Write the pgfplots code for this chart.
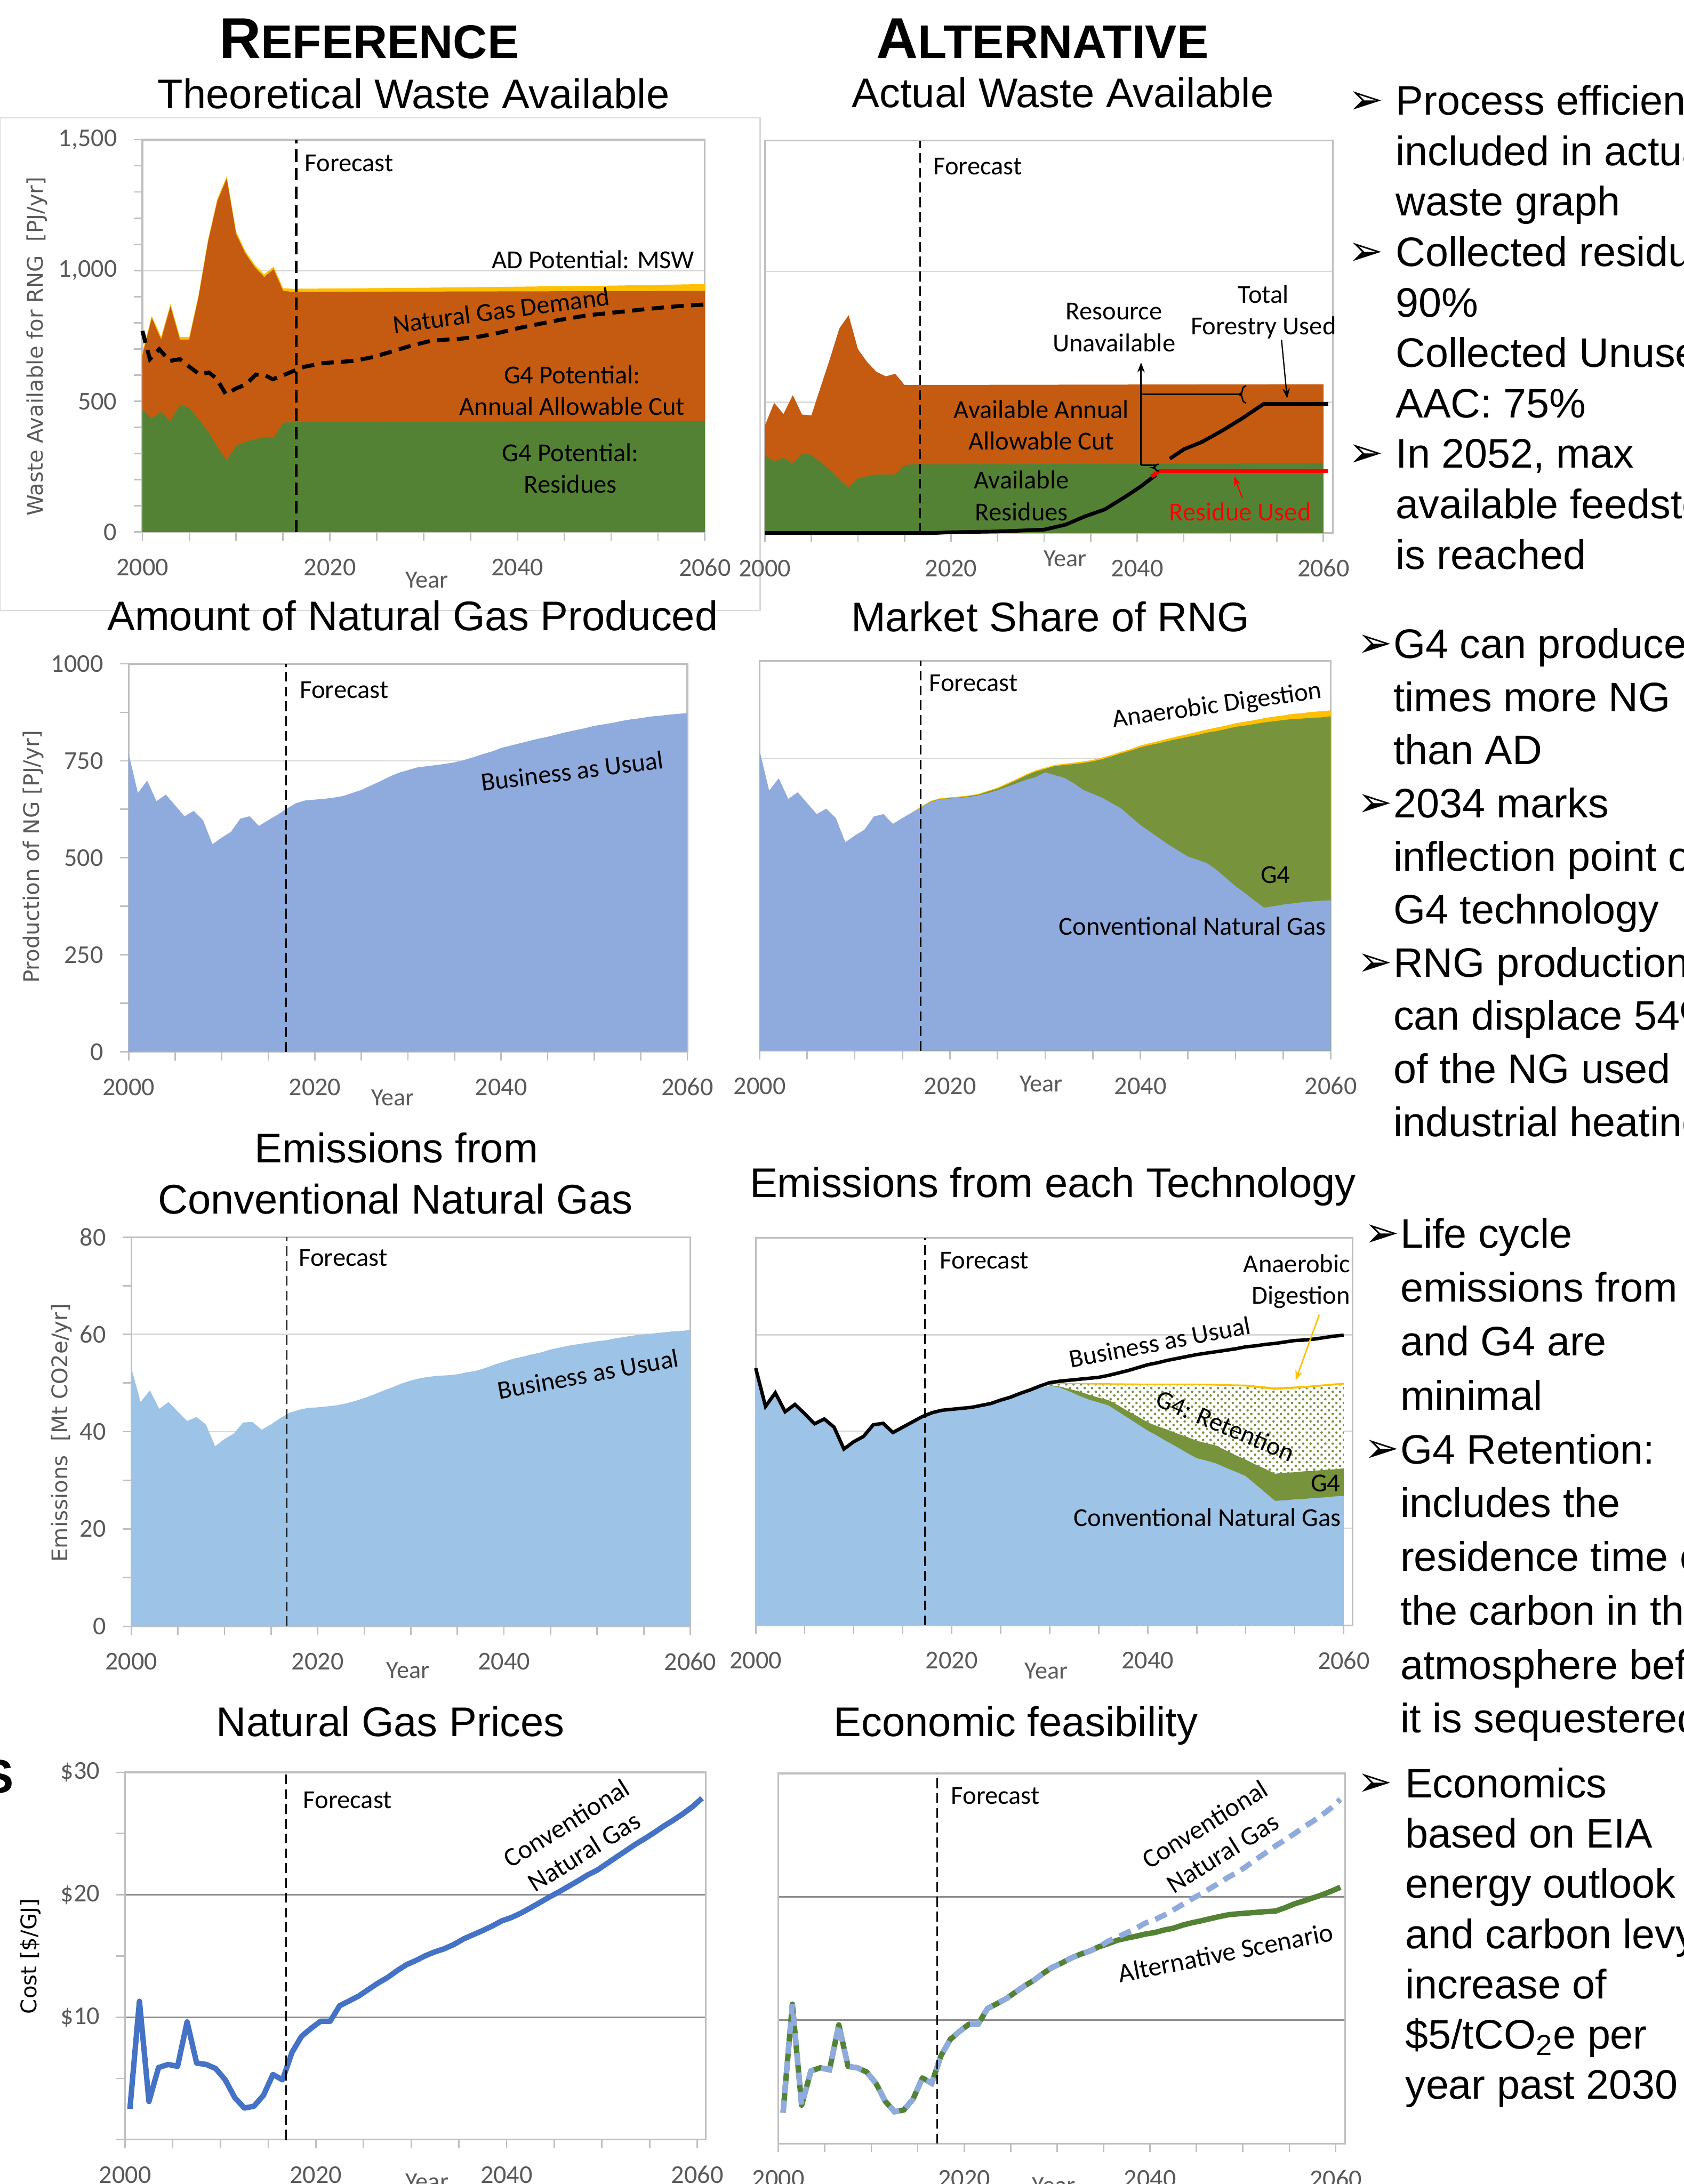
\documentclass[border=0pt]{standalone}
\usepackage{fontspec}
\setmainfont{Liberation Sans}
\newfontfamily\calibri{Carlito}
\newfontfamily\dejavu{DejaVu Sans}
\usepackage{pgfplots}
\pgfplotsset{compat=1.18}
\usetikzlibrary{patterns,decorations.pathreplacing,arrows.meta}

\definecolor{aacorange}{HTML}{C55A11}
\definecolor{resgreen}{HTML}{548235}
\definecolor{adyellow}{HTML}{FFC000}
\definecolor{ngblue}{HTML}{8FAADC}
\definecolor{g4green}{HTML}{77933C}
\definecolor{emblue}{HTML}{9DC3E6}
\definecolor{lineblue}{HTML}{4472C4}
\definecolor{tickgray}{HTML}{595959}
\definecolor{axgray}{HTML}{BFBFBF}
\definecolor{gridgray}{HTML}{D9D9D9}

\newcommand\annot{\calibri\fontsize{10.5}{12.8}\selectfont}
\newcommand\annotb{\calibri\fontsize{10.8}{13.6}\selectfont}
\newcommand\ticklbl{\calibri\fontsize{10.4}{12}\selectfont}
\newcommand\yearlbl{\calibri\fontsize{10}{12}\selectfont}
\newcommand\ylbl{\dejavu\fontsize{8.7}{10}\selectfont}
\newcommand\ttl{\fontsize{16.8}{20}\selectfont}
\newcommand\bultext{\fontsize{16.7}{20}\selectfont}
\newcommand\bul{\raisebox{0.5pt}{\dejavu\fontsize{17}{17}\selectfont ➢}}

\tikzset{fc/.style={line width=0.6pt, dash pattern=on 4pt off 2pt}}
\pgfplotsset{
  xl/.style={
    scale only axis, clip=false, anchor=north west,
    axis line style={draw=axgray, line width=0.7pt},
    tick style={draw=axgray, line width=0.6pt},
    tick align=outside, tick pos=left,
    major tick length=3.5pt, minor tick length=3.5pt,
    xmin=2000, xmax=2060, ymin=0,
    xtick={2000,2020,2040,2060},
    minor xtick={2005,2010,2015,2025,2030,2035,2045,2050,2055},
    tick label style={font=\ticklbl, text=tickgray},
    /pgf/number format/assume math mode=true,
    /pgf/number format/1000 sep={},
    ymajorgrids, grid style={draw=gridgray, line width=0.6pt},
    xticklabel style={anchor=center, yshift=-10.8pt},
    yticklabel style={anchor=east, inner sep=0pt, xshift=-6.6pt},
    xlabel style={font=\yearlbl, text=tickgray, anchor=center},
    ylabel style={font=\ylbl, text=tickgray, anchor=center},
  },
}

\begin{document}
\begin{tikzpicture}[bt/.style={anchor=base west, inner sep=0pt, font=\bultext}]

% chart-area frame of the first panel
\draw[gridgray, line width=0.5pt] (0pt,-47.8pt) rectangle (308pt,-247.4pt);

% headings and titles
\node[anchor=base, inner sep=0] at (149.6pt,-23.6pt) {\bfseries\fontsize{23.4}{24}\selectfont R\fontsize{19.2}{20}\selectfont EFERENCE};
\node[anchor=base, inner sep=0] at (422.4pt,-23.6pt) {\bfseries\fontsize{23.4}{24}\selectfont A\fontsize{19.2}{20}\selectfont LTERNATIVE};
\node[anchor=base, inner sep=0, font=\ttl] at (167.6pt,-44pt) {Theoretical Waste Available};
\node[anchor=base, inner sep=0, font=\ttl] at (430.6pt,-43.6pt) {Actual Waste Available};
\node[anchor=base, inner sep=0, font=\ttl] at (167.2pt,-255.4pt) {Amount of Natural Gas Produced};
\node[anchor=base, inner sep=0, font=\ttl] at (425.6pt,-256pt) {Market Share of RNG};
\node[anchor=base, inner sep=0, font=\ttl] at (160.6pt,-471.2pt) {Emissions from};
\node[anchor=base, inner sep=0, font=\ttl] at (160.2pt,-491.8pt) {Conventional Natural Gas};
\node[anchor=base, inner sep=0, font=\ttl] at (426.6pt,-485.2pt) {Emissions from each Technology};
\node[anchor=base, inner sep=0, font=\ttl] at (158.2pt,-703.6pt) {Natural Gas Prices};
\node[anchor=base, inner sep=0, font=\ttl] at (411.6pt,-703.6pt) {Economic feasibility};
\node[anchor=base east, inner sep=0] at (5.8pt,-726.4pt) {\bfseries\fontsize{23.4}{24}\selectfont E\fontsize{19.2}{20}\selectfont CONOMICS};

% ---------------- Panel 1: Theoretical waste ----------------
\begin{axis}[xl, at={(57.7pt,-56.6pt)}, width=227.9pt, height=159pt,
  ymax=1500, ytick={0,500,1000,1500}, minor ytick={100,200,...,1400},
  yticklabel style={/pgf/number format/1000 sep={,}},
  xlabel={Year}, xlabel style={at={(axis description cs:0.506,0)}, yshift=-19.4pt},
  ylabel={Waste Available for RNG\ \ [PJ/yr]}, ylabel style={at={(axis description cs:-0.187,0.473)}}]
\addplot[fill=adyellow, draw=none] coordinates {(2000,686) (2001,826) (2002,746) (2003,872) (2004,746) (2005,746) (2006,908) (2007,1117) (2008,1274) (2009,1360) (2010,1148) (2011,1073) (2012,1021) (2013,985) (2014,1015) (2015,932) (2016,930) (2020,931) (2030,934) (2040,938) (2050,942) (2060,948)} \closedcycle;
\addplot[fill=aacorange, draw=none] coordinates {(2000,676) (2001,818) (2002,736) (2003,863) (2004,736) (2005,736) (2006,900) (2007,1109) (2008,1266) (2009,1351) (2010,1139) (2011,1064) (2012,1012) (2013,975) (2014,1005) (2015,922) (2016,918) (2060,922)} \closedcycle;
\addplot[fill=resgreen, draw=none] coordinates {(2000,467) (2001,434) (2002,460) (2003,425) (2004,487) (2005,475) (2006,430) (2007,385) (2008,325) (2009,273) (2010,330) (2011,345) (2012,354) (2013,363) (2014,360) (2015,418) (2016,420) (2060,425)} \closedcycle;
\addplot[black, line width=1.6pt, dash pattern=on 5pt off 3pt] coordinates {(2000,769) (2000.8,661) (2001.8,699) (2002.9,654) (2004,661) (2005,632) (2006.1,603) (2007.1,610) (2007.9,587) (2008.9,527) (2010,549) (2011,564) (2012.1,602) (2013.1,599) (2013.9,584) (2015.2,602) (2016.2,617) (2017.3,632) (2019.3,646) (2022.5,654) (2024.6,669) (2026.7,691) (2028.8,714) (2030.9,732) (2034,739) (2036.1,748) (2038.2,763) (2040.3,781) (2042.4,796) (2044.5,811) (2047.6,829) (2050.8,841) (2053.9,853) (2057,863) (2060,870)};
\draw[line width=1.1pt, dash pattern=on 5pt off 2.5pt] (axis cs:2016.4,0) -- (axis cs:2016.4,1500);
\node[anchor=west, inner sep=0, font=\annot] at (rel axis cs:0.288,0.94) {Forecast};
\node[anchor=east, inner sep=0, font=\annot] at (rel axis cs:0.982,0.694) {AD Potential: MSW};
\node[rotate=7.5, font=\annot] at (rel axis cs:0.638,0.565) {Natural Gas Demand};
\node[align=center, font=\annot] at (rel axis cs:0.764,0.361) {G4 Potential:\\Annual Allowable Cut};
\node[align=center, font=\annot] at (rel axis cs:0.761,0.162) {G4 Potential:\\Residues};
\end{axis}

% ---------------- Panel 2: Actual waste ----------------
\begin{axis}[xl, at={(309.9pt,-57pt)}, width=230.1pt, height=159pt,
  xmax=2061, ymax=1500, ytick={500,1000}, yticklabels={}, ytick style={draw=none},
  xlabel={Year}, xlabel style={at={(axis description cs:0.529,0)}, yshift=-10.4pt}]
\addplot[fill=aacorange, draw=none] coordinates {(2000,410) (2001,498) (2002,455) (2003,527) (2004,453) (2005,450) (2006,559) (2007,667) (2008,782) (2009,833) (2010,703) (2011,653) (2012,616) (2013,599) (2014,609) (2015,566) (2016,566) (2060,569)} \closedcycle;
\addplot[fill=resgreen, draw=none] coordinates {(2000,296) (2001,274) (2002,287) (2003,266) (2004,303) (2005,299) (2006,270) (2007,241) (2008,205) (2009,173) (2010,208) (2011,217) (2012,224) (2013,224) (2014,224) (2015,260) (2016,263) (2060,266)} \closedcycle;
\addplot[black, line width=1.5pt] coordinates {(2000,0) (2018,0) (2020,3) (2025,6) (2030,13) (2032.3,32) (2034.4,64) (2036.5,90) (2038.6,136) (2040.3,176) (2042,222)};
\addplot[black, line width=1.5pt] coordinates {(2043.5,284) (2045,320) (2047,349) (2049.2,393) (2051.3,439) (2053.6,494) (2060.5,494)};
\addplot[red, line width=1.5pt] coordinates {(2041.5,216) (2042.4,237) (2060.5,237)};
\draw[fc] (axis cs:2016.7,0) -- (axis cs:2016.7,1500);
\draw[line width=0.6pt] (axis cs:2040.41,260) -- (axis cs:2041.97,260);
\draw[line width=0.6pt, -{Stealth[length=4pt,width=3pt]}] (axis cs:2040.41,260) -- (axis cs:2040.41,652);
\draw[line width=0.6pt] (axis cs:2040.41,530) -- (axis cs:2051.3,530);
\draw[line width=0.6pt, decorate, decoration={brace, amplitude=3pt}] (axis cs:2051.7,497) -- (axis cs:2051.7,563);
\draw[line width=0.6pt, decorate, decoration={brace, amplitude=2.5pt}] (axis cs:2042.3,237) -- (axis cs:2042.3,263);
\draw[line width=0.5pt, -{Stealth[length=4pt,width=3pt]}] (axis cs:2055.5,739) -- (axis cs:2056.1,515);
\draw[red, line width=0.5pt, -{Stealth[length=4pt,width=3pt]}] (axis cs:2051.3,133) -- (axis cs:2050.4,217);
\node[anchor=west, inner sep=0, font=\annot] at (rel axis cs:0.296,0.935) {Forecast};
\node[align=center, font=\annot] at (rel axis cs:0.615,0.524) {Resource\\Unavailable};
\node[align=center, font=\annot] at (rel axis cs:0.878,0.563) {Total\\Forestry Used};
\node[align=center, font=\annot] at (rel axis cs:0.487,0.275) {Available Annual\\Allowable Cut};
\node[align=center, font=\annot] at (rel axis cs:0.452,0.095) {Available\\Residues};
\node[font=\annot, text=red] at (rel axis cs:0.837,0.054) {Residue Used};
\end{axis}

% ---------------- Panel 3: NG produced ----------------
\begin{axis}[xl, at={(52.1pt,-269pt)}, width=226.4pt, height=157.2pt,
  ymax=1000, ytick={0,250,500,750,1000}, minor ytick={125,375,625,875},
  xlabel={Year}, xlabel style={at={(axis description cs:0.473,0)}, yshift=-18.6pt},
  ylabel={Production of NG [PJ/yr]}, ylabel style={at={(axis description cs:-0.171,0.503)}}]
\addplot[fill=ngblue, draw=none] coordinates {(2000,769) (2001,667) (2002,699) (2003,646) (2004,663) (2005,635) (2006,607) (2007,621) (2008,597) (2009,535) (2010,552) (2011,567) (2012,601) (2013,607) (2014,582) (2015,597) (2016,611) (2017,627) (2018,641) (2019,648) (2020,650) (2021,652) (2022,655) (2023,659) (2024,667) (2025,675) (2026,686) (2027,697) (2028,709) (2029,719) (2030,726) (2031,733) (2032,736) (2033,739) (2034,742) (2035,746) (2036,752) (2037,759) (2038,767) (2039,774) (2040,783) (2041,789) (2042,795) (2043,801) (2044,807) (2045,812) (2046,818) (2047,824) (2048,829) (2049,834) (2050,840) (2051,844) (2052,848) (2053,853) (2054,857) (2055,860) (2056,864) (2057,866) (2058,869) (2059,871) (2060,873)} \closedcycle;
\draw[fc] (axis cs:2016.9,0) -- (axis cs:2016.9,1000);
\node[anchor=west, inner sep=0, font=\annot] at (rel axis cs:0.306,0.933) {Forecast};
\node[rotate=7.2, font=\annot] at (rel axis cs:0.794,0.724) {Business as Usual};
\end{axis}

% ---------------- Panel 4: Market share ----------------
\begin{axis}[xl, at={(307.8pt,-267.8pt)}, width=231.4pt, height=158pt,
  ymax=1000, ytick={250,500,750}, yticklabels={}, ytick style={draw=none},
  xlabel={Year}, xlabel style={at={(axis description cs:0.493,0)}, yshift=-13.4pt}]
\addplot[fill=adyellow, draw=none] coordinates {(2016,611) (2017,627) (2018,641) (2019,648) (2020,650) (2021,652) (2022,655) (2023,659) (2024,667) (2025,675) (2026,686) (2027,697) (2028,709) (2029,719) (2030,726) (2031,733) (2032,736) (2033,739) (2034,742) (2035,746) (2036,752) (2037,759) (2038,767) (2039,774) (2040,783) (2041,789) (2042,795) (2043,801) (2044,807) (2045,812) (2046,818) (2047,824) (2048,829) (2049,834) (2050,840) (2051,844) (2052,848) (2053,853) (2054,857) (2055,860) (2056,864) (2057,866) (2058,869) (2059,871) (2060,873)} \closedcycle;
\addplot[fill=g4green, draw=none] coordinates {(2017,625) (2018,639) (2019,646) (2020,648) (2021,650) (2022,653) (2023,657) (2024,665) (2025,672) (2026,683) (2027,694) (2028,706) (2029,716) (2030,723) (2031,730) (2032,733) (2033,735) (2034,738) (2035,742) (2036,748) (2037,755) (2038,763) (2039,770) (2040,778) (2041,784) (2042,789) (2043,795) (2044,800) (2045,805) (2046,810) (2047,816) (2048,820) (2049,825) (2050,831) (2051,834) (2052,838) (2053,842) (2054,845) (2055,848) (2056,851) (2057,852) (2058,854) (2059,855) (2060,858)} \closedcycle;
\addplot[fill=ngblue, draw=none] coordinates {(2000,769) (2001,667) (2002,699) (2003,646) (2004,663) (2005,635) (2006,607) (2007,621) (2008,597) (2009,535) (2010,552) (2011,567) (2012,601) (2013,607) (2014,582) (2015,597) (2016,611) (2017,625) (2018,638) (2019,645) (2020,647) (2021,649) (2022,651) (2023,655) (2024,661) (2025,668) (2026,677) (2027,686) (2028,695) (2029,702) (2030,714) (2031,707) (2032,700) (2033,686) (2034,669) (2035,659) (2036,649) (2037,635) (2038,621) (2039,600) (2040,579) (2041,562) (2042,545) (2043,528) (2044,513) (2045,498) (2046,490) (2047,481) (2048,464) (2049,443) (2050,422) (2051,404) (2052,385) (2053,367) (2054,371) (2055,375) (2056,378) (2057,381) (2058,383) (2059,385) (2060,386)} \closedcycle;
\draw[fc] (axis cs:2016.9,0) -- (axis cs:2016.9,1000);
\node[anchor=west, inner sep=0, font=\annot] at (rel axis cs:0.296,0.943) {Forecast};
\node[rotate=8, font=\annot] at (rel axis cs:0.801,0.884) {Anaerobic Digestion};
\node[font=\annot] at (rel axis cs:0.903,0.451) {G4};
\node[font=\annot] at (rel axis cs:0.758,0.32) {Conventional Natural Gas};
\end{axis}

% ---------------- Panel 5: Emissions conventional ----------------
\begin{axis}[xl, at={(53.2pt,-501.3pt)}, width=226.5pt, height=157.7pt,
  ymax=80, ytick={0,20,40,60,80}, minor ytick={10,30,50,70},
  xlabel={Year}, xlabel style={at={(axis description cs:0.495,0)}, yshift=-18pt},
  ylabel={Emissions\ \ [Mt CO2e/yr]}, ylabel style={at={(axis description cs:-0.125,0.497)}}]
\addplot[fill=emblue, draw=none] coordinates {(2000,53.1) (2001,46.1) (2002,48.5) (2003,44.7) (2004,46.1) (2005,44.1) (2006,42.2) (2007,43.0) (2008,41.5) (2009,37.0) (2010,38.5) (2011,39.6) (2012,41.9) (2013,42.0) (2014,40.4) (2015,41.5) (2016,42.8) (2017,43.9) (2018,44.5) (2019,44.9) (2020,45.0) (2021,45.2) (2022,45.4) (2023,45.8) (2024,46.3) (2025,46.9) (2026,47.6) (2027,48.4) (2028,49.1) (2029,49.9) (2030,50.5) (2031,51.0) (2032,51.3) (2033,51.5) (2034,51.6) (2035,51.8) (2036,52.2) (2037,52.5) (2038,53.1) (2039,53.8) (2040,54.4) (2041,55.0) (2042,55.4) (2043,55.9) (2044,56.3) (2045,56.9) (2046,57.3) (2047,57.7) (2048,58.0) (2049,58.3) (2050,58.6) (2051,58.8) (2052,59.2) (2053,59.5) (2054,59.8) (2055,60.0) (2056,60.2) (2057,60.4) (2058,60.6) (2059,60.7) (2060,60.9)} \closedcycle;
\draw[fc] (axis cs:2016.7,0) -- (axis cs:2016.7,80);
\node[anchor=west, inner sep=0, font=\annot] at (rel axis cs:0.299,0.946) {Forecast};
\node[rotate=10.3, font=\annot] at (rel axis cs:0.817,0.648) {Business as Usual};
\end{axis}

% ---------------- Panel 6: Emissions each technology ----------------
\begin{axis}[xl, at={(306.2pt,-501.6pt)}, width=241.8pt, height=157pt,
  xmax=2060.9, ymax=80, ytick={20,40,60}, yticklabels={}, ytick style={draw=none},
  xlabel={Year}, xlabel style={at={(axis description cs:0.487,0)}, yshift=-18.4pt}]
\addplot[fill=adyellow, draw=none] coordinates {(2030,50.1) (2032,50.0) (2035,50.0) (2040,49.9) (2045,49.9) (2050,49.7) (2053,49.1) (2056,49.4) (2060,50.1)} \closedcycle;
\addplot[fill=white, draw=none] coordinates {(2030,49.9) (2032,49.8) (2035,49.7) (2040,49.6) (2045,49.6) (2050,49.3) (2053,48.6) (2056,49.0) (2060,49.7)} \closedcycle;
\addplot[pattern=crosshatch dots, pattern color=g4green, draw=none] coordinates {(2030,49.9) (2032,49.8) (2035,49.7) (2040,49.6) (2045,49.6) (2050,49.3) (2053,48.6) (2056,49.0) (2060,49.7)} \closedcycle;
\addplot[fill=g4green, draw=none] coordinates {(2030,49.6) (2031,49.3) (2032,48.8) (2033,48.3) (2034,47.6) (2035,47.0) (2036,46.5) (2037,45.4) (2038,44.2) (2039,43.1) (2040,41.9) (2041,41.1) (2042,40.4) (2043,39.6) (2044,38.9) (2045,38.1) (2046,37.6) (2047,37.1) (2048,36.1) (2049,35.1) (2050,34.2) (2051,33.2) (2052,32.3) (2053,31.3) (2054,31.5) (2055,31.6) (2056,31.8) (2057,31.9) (2058,32.1) (2059,32.2) (2060,32.4)} \closedcycle;
\addplot[fill=emblue, draw=none] coordinates {(2000,53.1) (2001,45.2) (2002,48.0) (2003,44.1) (2004,45.6) (2005,43.7) (2006,41.6) (2007,42.6) (2008,40.9) (2009,36.4) (2010,37.9) (2011,39.0) (2012,41.4) (2013,41.7) (2014,39.8) (2015,40.9) (2016,42.0) (2017,43.1) (2018,43.9) (2019,44.4) (2020,44.6) (2021,44.8) (2022,45.0) (2023,45.4) (2024,45.8) (2025,46.5) (2026,47.1) (2027,47.9) (2028,48.4) (2029,49.0) (2030,49.5) (2031,49.1) (2032,48.3) (2033,47.4) (2034,46.6) (2035,46.0) (2036,45.4) (2037,44.1) (2038,42.8) (2039,41.5) (2040,40.2) (2041,39.1) (2042,37.9) (2043,36.8) (2044,35.6) (2045,34.5) (2046,34.0) (2047,33.4) (2048,32.5) (2049,31.7) (2050,30.8) (2051,29.1) (2052,27.4) (2053,25.7) (2054,25.8) (2055,26.0) (2056,26.1) (2057,26.3) (2058,26.4) (2059,26.6) (2060,26.7)} \closedcycle;
\addplot[black, line width=1.4pt] coordinates {(2000,53.1) (2001,45.2) (2002,48.0) (2003,44.1) (2004,45.6) (2005,43.7) (2006,41.6) (2007,42.6) (2008,40.9) (2009,36.4) (2010,37.9) (2011,39.0) (2012,41.4) (2013,41.7) (2014,39.8) (2015,40.9) (2016,42.0) (2017,43.1) (2018,43.9) (2019,44.4) (2020,44.6) (2021,44.8) (2022,45.0) (2023,45.4) (2024,45.8) (2025,46.5) (2026,47.1) (2027,47.9) (2028,48.6) (2029,49.4) (2030,50.1) (2031,50.4) (2032,50.6) (2033,50.8) (2034,51.0) (2035,51.2) (2036,51.6) (2037,52.1) (2038,52.6) (2039,53.2) (2040,53.8) (2041,54.2) (2042,54.7) (2043,55.1) (2044,55.5) (2045,55.9) (2046,56.2) (2047,56.5) (2048,56.8) (2049,57.1) (2050,57.5) (2051,57.7) (2052,58.0) (2053,58.2) (2054,58.5) (2055,58.8) (2056,58.9) (2057,59.1) (2058,59.4) (2059,59.7) (2060,59.9)};
\draw[fc] (axis cs:2017.25,0) -- (axis cs:2017.25,80);
\draw[adyellow, line width=0.6pt, -{Stealth[length=4pt,width=3pt]}] (axis cs:2057.5,64.1) -- (axis cs:2055.1,50.6);
\node[anchor=west, inner sep=0, font=\annot] at (rel axis cs:0.308,0.941) {Forecast};
\node[anchor=east, align=right, inner sep=0, font=\annot] at (rel axis cs:0.997,0.888) {Anaerobic\\Digestion};
\node[rotate=10.8, font=\annot] at (rel axis cs:0.677,0.731) {Business as Usual};
\node[rotate=-22.8, font=\annot] at (rel axis cs:0.787,0.516) {G4: Retention};
\node[font=\annot] at (rel axis cs:0.955,0.367) {G4};
\node[font=\annot] at (rel axis cs:0.757,0.278) {Conventional Natural Gas};
\end{axis}

% ---------------- Panel 7: NG prices ----------------
\begin{axis}[xl, at={(50.7pt,-718.2pt)}, width=235.3pt, height=148.8pt,
  xmax=2060.9, ymax=30, ytick={0,10,20,30}, yticklabels={,\$10,\$20,\$30}, minor ytick={5,15,25},
  grid style={draw=black!45},
  xlabel={Year}, xlabel style={at={(axis description cs:0.52,0)}, yshift=-17pt},
  ylabel={Cost [\$/GJ]}, ylabel style={at={(axis description cs:-0.163,0.499)}, text=black}]
\addplot[lineblue, line width=2.2pt, line join=round] coordinates {(2000.5,2.50) (2001.5,11.3) (2002.5,3.11) (2003.5,5.88) (2004.5,6.14) (2005.5,5.98) (2006.5,9.62) (2007.5,6.25) (2008.5,6.14) (2009.5,5.80) (2010.5,4.88) (2011.5,3.43) (2012.5,2.58) (2013.5,2.72) (2014.5,3.61) (2015.5,5.32) (2016.5,4.88) (2017.5,7.12) (2018.5,8.44) (2019.5,9.09) (2020.5,9.67) (2021.5,9.67) (2022.5,10.94) (2023.5,11.33) (2024.5,11.73) (2025.5,12.26) (2026.5,12.78) (2027.5,13.23) (2028.5,13.79) (2029.5,14.29) (2030.5,14.63) (2031.5,15.03) (2032.5,15.34) (2033.5,15.60) (2034.5,15.95) (2035.5,16.40) (2036.5,16.74) (2037.5,17.08) (2038.5,17.45) (2039.5,17.87) (2040.5,18.14) (2041.5,18.50) (2042.5,18.93) (2043.5,19.37) (2044.5,19.82) (2045.5,20.24) (2046.5,20.69) (2047.5,21.14) (2048.5,21.62) (2049.5,22.01) (2050.5,22.54) (2051.5,23.07) (2052.5,23.59) (2053.5,24.12) (2054.5,24.59) (2055.5,25.09) (2056.5,25.62) (2057.5,26.10) (2058.5,26.62) (2059.5,27.20) (2060.5,27.89)};
\draw[fc] (axis cs:2016.9,0) -- (axis cs:2016.9,30);
\node[anchor=west, inner sep=0, font=\annot] at (rel axis cs:0.306,0.925) {Forecast};
\node[rotate=32, align=center, font=\annotb] at (rel axis cs:0.775,0.823) {Conventional\\Natural Gas};
\end{axis}

% ---------------- Panel 8: Economic feasibility ----------------
\begin{axis}[xl, at={(315.4pt,-718.6pt)}, width=229.6pt, height=150pt,
  xmax=2061, ymax=30, ytick={10,20}, yticklabels={}, ytick style={draw=none}, grid style={draw=black!45},
  xlabel={Year}, xlabel style={at={(axis description cs:0.486,0)}, yshift=-17pt}]
\addplot[resgreen, line width=2.2pt, line join=round] coordinates {(2000.5,2.50) (2001.5,11.3) (2002.5,3.11) (2003.5,5.88) (2004.5,6.14) (2005.5,5.98) (2006.5,9.62) (2007.5,6.25) (2008.5,6.14) (2009.5,5.80) (2010.5,4.88) (2011.5,3.43) (2012.5,2.58) (2013.5,2.72) (2014.5,3.61) (2015.5,5.32) (2016.5,4.88) (2017.5,7.12) (2018.5,8.44) (2019.5,9.09) (2020.5,9.67) (2021.5,9.67) (2022.5,10.94) (2023.5,11.33) (2024.5,11.73) (2025.5,12.26) (2026.5,12.78) (2027.5,13.23) (2028.5,13.79) (2029.5,14.29) (2030.5,14.63) (2031.5,15.03) (2032.5,15.34) (2033.5,15.60) (2034.5,15.95) (2035.5,16.2) (2036.5,16.48) (2037.5,16.65) (2038.5,16.8) (2039.5,16.98) (2040.5,17.1) (2041.5,17.3) (2042.5,17.45) (2043.5,17.7) (2044.5,17.89) (2045.5,18.05) (2046.5,18.23) (2047.5,18.4) (2048.5,18.55) (2049.5,18.62) (2050.5,18.68) (2051.5,18.74) (2052.5,18.8) (2053.5,18.84) (2054.5,19.1) (2055.5,19.41) (2056.5,19.65) (2057.5,19.9) (2058.5,20.15) (2059.5,20.45) (2060.5,20.77)};
\addplot[ngblue, line width=2.2pt, dash pattern=on 5pt off 3pt] coordinates {(2000.5,2.50) (2001.5,11.3) (2002.5,3.11) (2003.5,5.88) (2004.5,6.14) (2005.5,5.98) (2006.5,9.62) (2007.5,6.25) (2008.5,6.14) (2009.5,5.80) (2010.5,4.88) (2011.5,3.43) (2012.5,2.58) (2013.5,2.72) (2014.5,3.61) (2015.5,5.32) (2016.5,4.88) (2017.5,7.12) (2018.5,8.44) (2019.5,9.09) (2020.5,9.67) (2021.5,9.67) (2022.5,10.94) (2023.5,11.33) (2024.5,11.73) (2025.5,12.26) (2026.5,12.78) (2027.5,13.23) (2028.5,13.79) (2029.5,14.29) (2030.5,14.63) (2031.5,15.03) (2032.5,15.34) (2033.5,15.60) (2034.5,15.95) (2035.5,16.40) (2036.5,16.74) (2037.5,17.08) (2038.5,17.45) (2039.5,17.87) (2040.5,18.14) (2041.5,18.50) (2042.5,18.93) (2043.5,19.37) (2044.5,19.82) (2045.5,20.24) (2046.5,20.69) (2047.5,21.14) (2048.5,21.62) (2049.5,22.01) (2050.5,22.54) (2051.5,23.07) (2052.5,23.59) (2053.5,24.12) (2054.5,24.59) (2055.5,25.09) (2056.5,25.62) (2057.5,26.10) (2058.5,26.62) (2059.5,27.20) (2060.5,27.89)};
\draw[fc] (axis cs:2017.1,0) -- (axis cs:2017.1,30);
\node[anchor=west, inner sep=0, font=\annot] at (rel axis cs:0.304,0.939) {Forecast};
\node[rotate=32, align=center, font=\annotb] at (rel axis cs:0.768,0.824) {Conventional\\Natural Gas};
\node[rotate=11.2, font=\annotb] at (rel axis cs:0.789,0.516) {Alternative Scenario};
\end{axis}

% ---------------- Bullet text ----------------
\node[bt] at (546.2pt,-46.6pt) {\bul};
\node[bt] at (565.4pt,-46.6pt) {Process efficiency};
\node[bt] at (565.4pt,-67.0pt) {included in actual};
\node[bt] at (565.4pt,-87.4pt) {waste graph};
\node[bt] at (546.2pt,-108.0pt) {\bul};
\node[bt] at (565.4pt,-108.0pt) {Collected residues:};
\node[bt] at (565.4pt,-128.4pt) {90\%};
\node[bt] at (565.4pt,-148.8pt) {Collected Unused};
\node[bt] at (565.4pt,-169.2pt) {AAC: 75\%};
\node[bt] at (546.2pt,-189.6pt) {\bul};
\node[bt] at (565.4pt,-189.6pt) {In 2052, max};
\node[bt] at (565.4pt,-210.2pt) {available feedstock};
\node[bt] at (565.4pt,-230.6pt) {is reached};

\node[bt] at (549.8pt,-266.8pt) {\bul};
\node[bt] at (564.4pt,-266.8pt) {G4 can produce 4};
\node[bt] at (564.4pt,-288.3pt) {times more NG};
\node[bt] at (564.4pt,-309.8pt) {than AD};
\node[bt] at (549.8pt,-331.4pt) {\bul};
\node[bt] at (564.4pt,-331.4pt) {2034 marks};
\node[bt] at (564.4pt,-352.9pt) {inflection point of};
\node[bt] at (564.4pt,-374.4pt) {G4 technology};
\node[bt] at (549.8pt,-395.9pt) {\bul};
\node[bt] at (564.4pt,-395.9pt) {RNG production};
\node[bt] at (564.4pt,-417.4pt) {can displace 54\%};
\node[bt] at (564.4pt,-438.9pt) {of the NG used in};
\node[bt] at (564.4pt,-460.5pt) {industrial heating};

\node[bt] at (552.6pt,-505.8pt) {\bul};
\node[bt] at (567.2pt,-505.8pt) {Life cycle};
\node[bt] at (567.2pt,-527.6pt) {emissions from AD};
\node[bt] at (567.2pt,-549.4pt) {and G4 are};
\node[bt] at (567.2pt,-571.3pt) {minimal};
\node[bt] at (552.6pt,-593.1pt) {\bul};
\node[bt] at (567.2pt,-593.1pt) {G4 Retention:};
\node[bt] at (567.2pt,-614.9pt) {includes the};
\node[bt] at (567.2pt,-636.7pt) {residence time of};
\node[bt] at (567.2pt,-658.5pt) {the carbon in the};
\node[bt] at (567.2pt,-680.4pt) {atmosphere before};
\node[bt] at (567.2pt,-702.2pt) {it is sequestered};

\node[bt] at (549.8pt,-728.4pt) {\bul};
\node[bt] at (569.2pt,-728.4pt) {Economics};
\node[bt] at (569.2pt,-748.8pt) {based on EIA};
\node[bt] at (569.2pt,-769.1pt) {energy outlook};
\node[bt] at (569.2pt,-789.5pt) {and carbon levy};
\node[bt] at (569.2pt,-809.8pt) {increase of};
\node[bt] at (569.2pt,-830.2pt) {\$5/tCO\textsubscript{2}e per};
\node[bt] at (569.2pt,-850.6pt) {year past 2030};

\pgfresetboundingbox
\useasboundingbox (0pt,0pt) rectangle (682.2pt,-885pt);
\end{tikzpicture}
\end{document}
